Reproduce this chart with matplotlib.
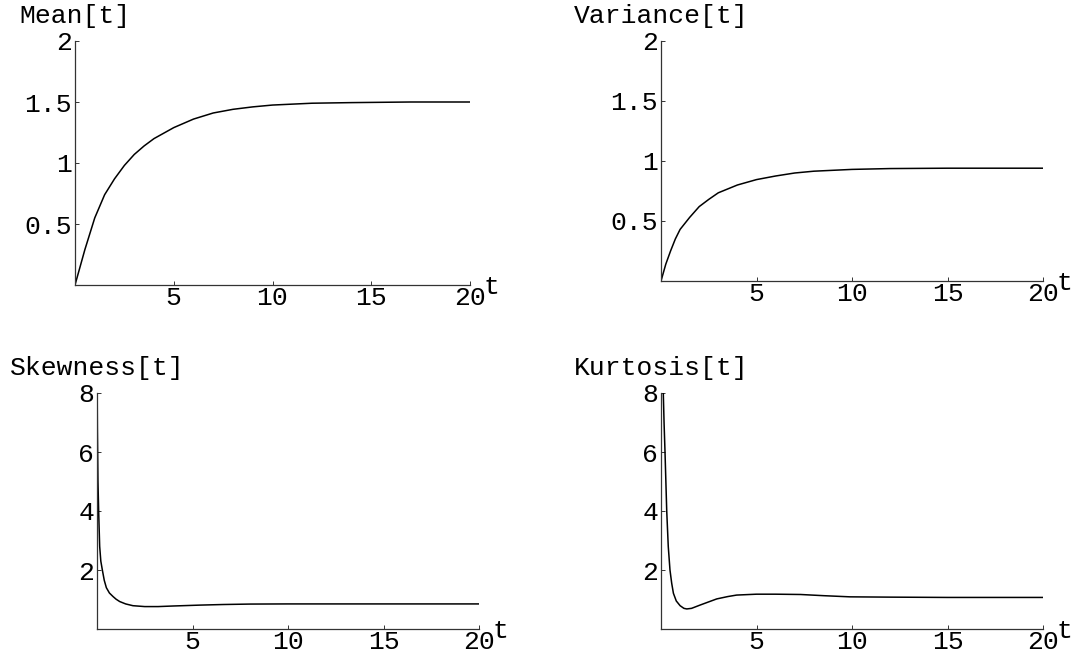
import numpy as np
import matplotlib
matplotlib.use("Agg")
import matplotlib.pyplot as plt

plt.rcParams["font.family"] = ["Liberation Mono", "DejaVu Sans Mono"]
plt.rcParams["font.size"] = 19

# values
mean_t = [0, 0.5, 1, 1.5, 2, 2.5, 3, 3.5, 4, 5, 6, 7, 8, 9, 10, 12, 14, 17, 20]
mean_v = [0, 0.29, 0.55, 0.74, 0.87, 0.98, 1.07, 1.14, 1.20, 1.29, 1.36, 1.41,
          1.44, 1.46, 1.475, 1.49, 1.495, 1.5, 1.5]

var_t = [0, 0.25, 0.5, 0.75, 1, 1.5, 2, 2.5, 3, 4, 5, 6, 7, 8, 10, 12, 15, 20]
var_v = [0, 0.14, 0.25, 0.35, 0.43, 0.53, 0.62, 0.68, 0.735, 0.80, 0.845, 0.875,
         0.90, 0.915, 0.93, 0.937, 0.94, 0.94]

skew_t = [0.0, 0.02, 0.05, 0.09, 0.14, 0.2, 0.28, 0.38, 0.49, 0.65, 0.84, 1.0,
          1.19, 1.5, 1.88, 2.5, 3.2, 4.0, 5.4, 6.6, 8.0, 10, 15, 20]
skew_v = [9.0, 6.8, 5.0, 3.9, 2.8, 2.3, 2.0, 1.65, 1.40, 1.22, 1.10, 1.01,
          0.93, 0.85, 0.79, 0.76, 0.76, 0.78, 0.81, 0.83, 0.845, 0.85, 0.85, 0.85]

kurt_t = [0.08, 0.12, 0.16, 0.21, 0.3, 0.38, 0.47, 0.56, 0.65, 0.8, 1.0, 1.2,
          1.35, 1.6, 2.04, 2.5, 2.92, 3.5, 3.96, 5.0, 6.0, 7.3, 8.5, 9.9, 12, 15, 20]
kurt_v = [9.5, 8.0, 7.0, 6.0, 4.0, 2.8, 2.0, 1.55, 1.21, 0.95, 0.79, 0.70,
          0.68, 0.70, 0.81, 0.92, 1.02, 1.10, 1.15, 1.18, 1.18, 1.17, 1.13,
          1.09, 1.08, 1.07, 1.07]

x_ticks = [5, 10, 15, 20]
x_labels = ["5", "10", "15", "20"]
top_yticks = [0.5, 1, 1.5, 2]
top_ylabels = ["0.5", "1", "1.5", "2"]
bot_yticks = [2, 4, 6, 8]
bot_ylabels = ["2", "4", "6", "8"]

W, H = 1087, 657
fig = plt.figure(figsize=(W / 100, H / 100), dpi=100)


def panel(x0, y_top, x1, y_bot, t, v, ymax, yticks, ylabels, title):
    # pixel box -> figure fraction
    ax = fig.add_axes([x0 / W, 1 - y_bot / H, (x1 - x0) / W, (y_bot - y_top) / H])
    ax.plot(t, v, color="black", lw=1.1)
    ax.set_xlim(0, 20)
    ax.set_ylim(0, ymax)
    for s in ("top", "right"):
        ax.spines[s].set_visible(False)
    for s in ("left", "bottom"):
        ax.spines[s].set_color("#333333")
        ax.spines[s].set_linewidth(0.9)
    ax.set_xticks(x_ticks)
    ax.set_xticklabels(x_labels)
    ax.set_yticks(yticks)
    ax.set_yticklabels(ylabels)
    ax.tick_params(axis="x", direction="in", length=3, width=0.7,
                   color="#333333", pad=1)
    ax.tick_params(axis="y", direction="in", length=3, width=0.7,
                   color="#333333", pad=2)
    ax.annotate("t", xy=(1, 0), xycoords="axes fraction",
                xytext=(10, -6.5), textcoords="offset points",
                ha="left", va="baseline")
    ax.annotate(title, xy=(0, 1), xycoords="axes fraction",
                xytext=(0, 18), textcoords="offset points",
                ha="center", va="center")
    return ax


panel(75, 41, 470, 285, mean_t, mean_v, 2, top_yticks, top_ylabels, "Mean[t]")
panel(661, 41, 1043, 281, var_t, var_v, 2, top_yticks, top_ylabels, "Variance[t]")
panel(97, 393, 479, 629, skew_t, skew_v, 8, bot_yticks, bot_ylabels, "Skewness[t]")
panel(661, 393, 1043, 629, kurt_t, kurt_v, 8, bot_yticks, bot_ylabels, "Kurtosis[t]")

fig.savefig("out.png", dpi=100)
